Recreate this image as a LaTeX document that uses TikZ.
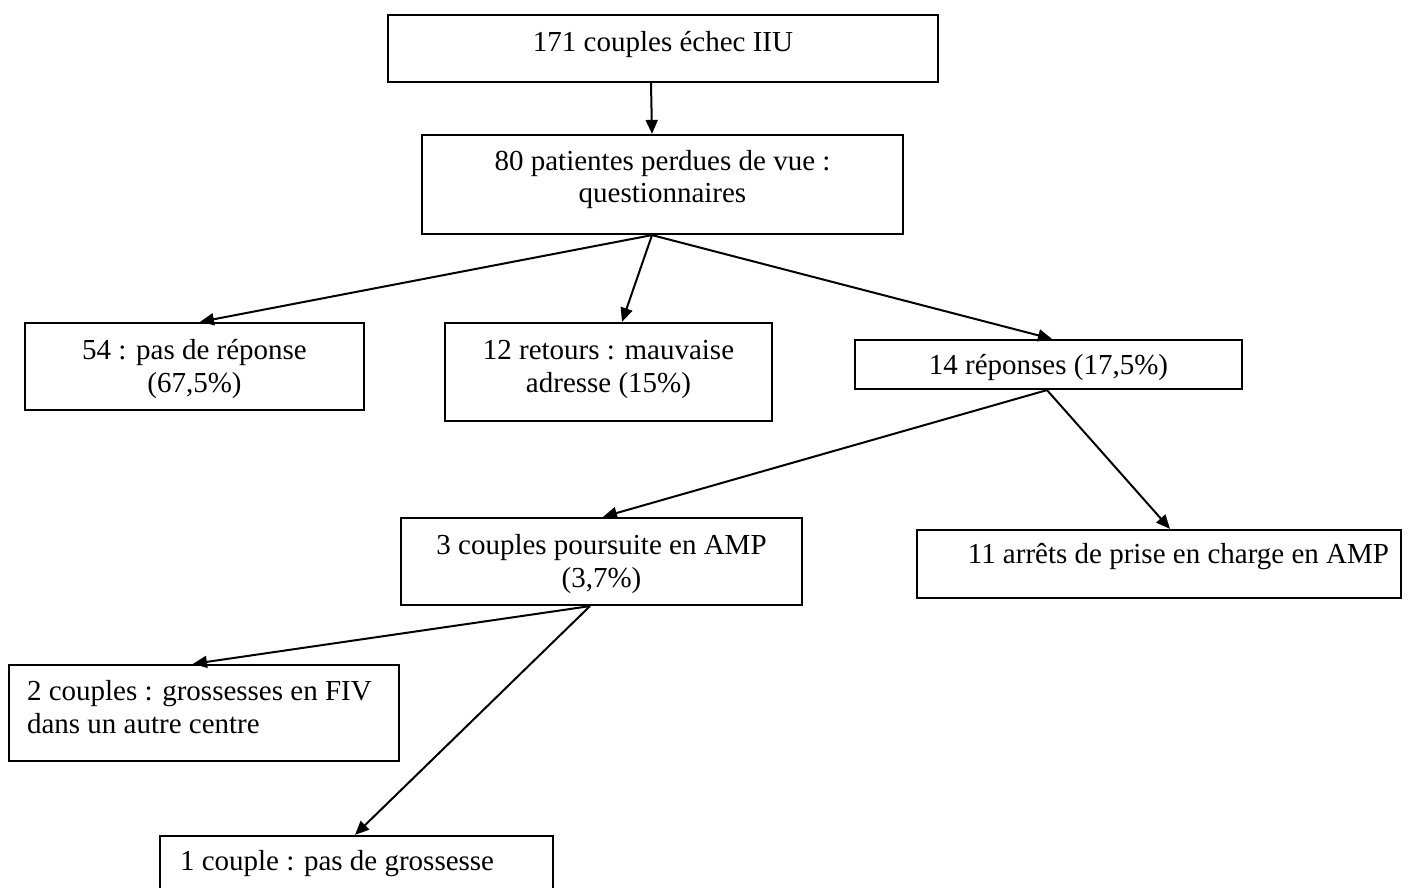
\documentclass[tikz,border=0pt]{standalone}
\usepackage{fontspec}
\setmainfont{Liberation Serif}
\usetikzlibrary{arrows.meta}
\tikzset{
  box/.style={draw,line width=1.1pt,inner ysep=0pt,inner xsep=0pt,align=center,font=\fontsize{14.5pt}{16.5pt}\selectfont},
  lbox/.style={box,align=flush left,inner xsep=9pt},
  arr/.style={-{Triangle[length=7pt,width=6pt]},line width=1pt}
}
\begin{document}
\begin{tikzpicture}[x=0.5pt,y=-0.5pt]
\useasboundingbox[fill=white] (0,0) rectangle (1410,888);
\node[box,minimum width=275pt,text height=18.5pt,text depth=15pt] (b1) at (663,48.5) {171 couples échec IIU};
\node[box,minimum width=240.5pt,text height=34pt,text depth=15.5pt] (b2) at (662.5,184.5) {80 patientes perdues de vue :\\questionnaires};
\node[box,minimum width=169.5pt,text height=34.5pt,text depth=9pt] (b3) at (194.5,366.5) {54 : pas de réponse\\(67,5\%)};
\node[box,minimum width=163.5pt,text height=34.5pt,text depth=14.5pt] (b4) at (608.5,372) {12 retours : mauvaise\\adresse (15\%)};
\node[box,minimum width=193.5pt,text height=17pt,text depth=7.5pt] (b5) at (1048.5,364.5) {14 réponses (17,5\%)};
\node[box,minimum width=200.5pt,text height=34.5pt,text depth=9pt] (b6) at (601.5,561.5) {3 couples poursuite en AMP\\(3,7\%)};
\node[box,align=flush right,text width=230pt,inner xsep=6pt,text height=16.5pt,text depth=17.5pt] (b7) at (1159,564) {11 arrêts de prise en charge en AMP};
\node[lbox,text width=177pt,text height=17.5pt,text depth=30.5pt] (b8) at (204,713) {2 couples : grossesses en FIV\\dans un autre centre};
\node[lbox,text width=176.5pt,inner xsep=10pt,text height=17pt,text depth=17pt] (b9) at (356.5,870) {1 couple : pas de grossesse};
\coordinate (o2) at ([xshift=-5.25pt]b2.south);
\coordinate (o5) at ([xshift=-0.75pt]b5.south);
\coordinate (o6) at ([xshift=-5.75pt]b6.south);
\draw[arr] ([xshift=-6pt]b1.south) -- ([xshift=-5.25pt]b2.north);
\draw[arr] (o2) -- ([xshift=2.75pt]b3.north);
\draw[arr] (o2) -- ([xshift=6.75pt]b4.north);
\draw[arr] (o2) -- ([xshift=1.75pt]b5.north);
\draw[arr] (o5) -- ([xshift=0.75pt]b6.north);
\draw[arr] (o5) -- ([xshift=5.5pt]b7.north);
\draw[arr] (o6) -- ([xshift=-5.5pt]b8.north);
\draw[arr] (o6) -- ([xshift=-0.75pt]b9.north);
\end{tikzpicture}
\end{document}
